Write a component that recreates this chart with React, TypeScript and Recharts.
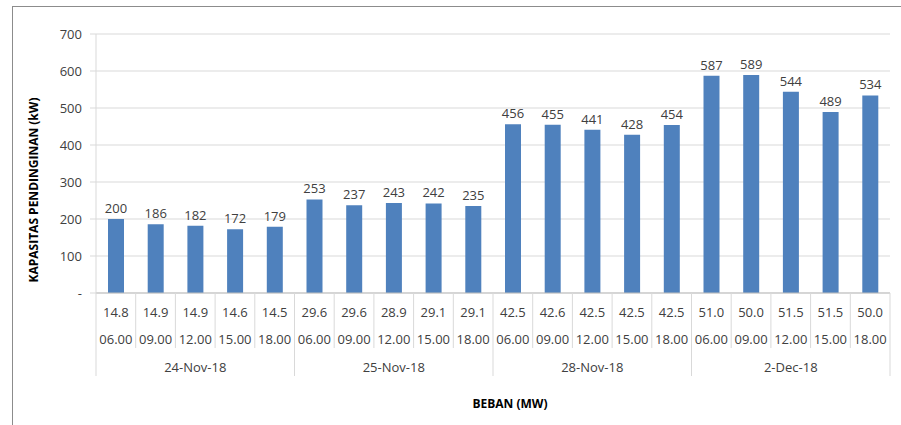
import React from 'react';
import { BarChart, Bar, XAxis, YAxis, CartesianGrid, LabelList } from 'recharts';

const capacity = [200, 186, 182, 172, 179, 253, 237, 243, 242, 235, 456, 455, 441, 428, 454, 587, 589, 544, 489, 534];
const loads = ['14.8', '14.9', '14.9', '14.6', '14.5', '29.6', '29.6', '28.9', '29.1', '29.1', '42.5', '42.6', '42.5', '42.5', '42.5', '51.0', '50.0', '51.5', '51.5', '50.0'];
const times = ['06.00', '09.00', '12.00', '15.00', '18.00'];
const dates = ['24-Nov-18', '25-Nov-18', '28-Nov-18', '2-Dec-18'];
const yTicks = [0, 100, 200, 300, 400, 500, 600, 700];

const data = capacity.map((v, i) => ({
  idx: i,
  value: v,
  load: loads[i],
  time: times[i % times.length],
  date: dates[Math.floor(i / times.length)],
}));

const W = 901;
const H = 425;
const M = { top: 34, right: 11, left: 0, bottom: 0 };
const Y_W = 96;
const PLOT_W = W - M.left - M.right - Y_W;
const BAND = PLOT_W / data.length;
const FONT = '"Open Sans", sans-serif';
const SEP = '#d9d9d9';

const XTick = (props: any) => {
  const { x, y, index } = props;
  const d = data[index];
  if (!d) return null;
  const half = BAND / 2;
  const per = times.length;
  const groupStart = index % per === 0;
  const isLast = index === data.length - 1;
  return (
    <g>
      <line x1={x - half} x2={x - half} y1={y} y2={y + (groupStart ? 83 : 55)} stroke={SEP} />
      {isLast && <line x1={x + half} x2={x + half} y1={y} y2={y + 83} stroke={SEP} />}
      <text x={x} y={y + 19} textAnchor="middle" dominantBaseline="central" fill="#404040" fontSize={13} fontFamily={FONT}>{d.load}</text>
      <text x={x} y={y + 46} textAnchor="middle" dominantBaseline="central" fill="#404040" fontSize={13} fontFamily={FONT}>{d.time}</text>
      {index % per === 2 && (
        <text x={x} y={y + 74} textAnchor="middle" dominantBaseline="central" fill="#404040" fontSize={13} fontFamily={FONT}>{d.date}</text>
      )}
    </g>
  );
};

const XTitle = (props: any) => {
  const vb = props.viewBox;
  return (
    <text x={vb.x + vb.width / 2 + 17} y={403} textAnchor="middle" dominantBaseline="central" fill="#000" fontSize={12} fontWeight="bold" fontFamily={FONT}>BEBAN (MW)</text>
  );
};

const YTitle = () => {
  const cx = 33;
  const cy = 190;
  return (
    <text x={cx} y={cy} transform={`rotate(-90, ${cx}, ${cy})`} textAnchor="middle" dominantBaseline="central" fill="#000" fontSize={12} fontWeight="bold" fontFamily={FONT}>KAPASITAS PENDINGINAN (kW)</text>
  );
};

export default function App() {
  return (
    <div style={{ position: 'absolute', left: 0, top: 0, width: W, height: H, background: '#fff', overflow: 'hidden' }}>
      <div style={{ position: 'absolute', left: 12, top: 6, width: W - 12, height: 1, background: '#8c8c8c' }} />
      <div style={{ position: 'absolute', left: 12, top: 6, width: 1, height: H - 6, background: '#8c8c8c' }} />
      <div style={{ position: 'absolute', left: 0, top: 0 }}>
        <BarChart width={W} height={H} data={data} margin={M}>
          <CartesianGrid vertical={false} stroke={SEP} />
          <XAxis
            dataKey="idx"
            height={H - 293 - M.bottom}
            tick={<XTick />}
            tickLine={false}
            tickSize={0}
            tickMargin={0}
            interval={0}
            axisLine={{ stroke: '#bfbfbf' }}
            label={<XTitle />}
          />
          <YAxis
            width={Y_W}
            domain={[0, 700]}
            ticks={yTicks}
            tickFormatter={(v: number) => (v === 0 ? '-' : String(v))}
            tick={{ fill: '#404040', fontSize: 13, fontFamily: FONT }}
            tickSize={6}
            tickMargin={8}
            tickLine={{ stroke: SEP }}
            axisLine={{ stroke: SEP }}
            label={<YTitle />}
          />
          <Bar dataKey="value" fill="#4f81bd" barSize={16} isAnimationActive={false}>
            <LabelList dataKey="value" position="top" offset={6} fill="#404040" fontSize={13} fontFamily={FONT} />
          </Bar>
        </BarChart>
      </div>
    </div>
  );
}
